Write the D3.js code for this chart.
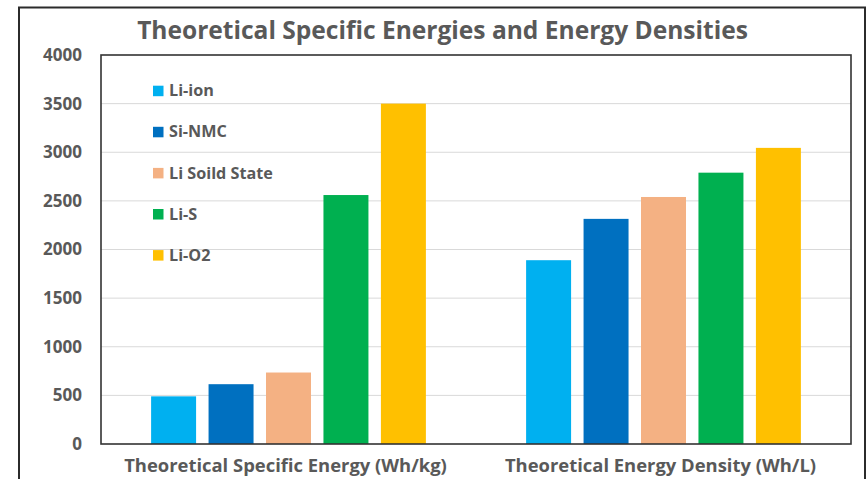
<!DOCTYPE html>
<html>
<head>
<meta charset="utf-8">
<script src="https://cdn.jsdelivr.net/npm/d3@7"></script>
<style>
  html, body { margin: 0; padding: 0; background: #fff; }
  svg { display: block; }
  text { font-family: "Open Sans", "Noto Sans", sans-serif; font-weight: 700; fill: #595959; }
</style>
</head>
<body>
<svg id="chart" width="867" height="479"></svg>
<script>
// Chart data
const categories = ["Theoretical Specific Energy (Wh/kg)", "Theoretical Energy Density (Wh/L)"];
const seriesNames = ["Li-ion", "Si-NMC", "Li Soild State", "Li-S", "Li-O2"];
const liIon = [490, 1890];
const siNmc = [615, 2315];
const liSolidState = [735, 2540];
const liS = [2560, 2790];
const liO2 = [3500, 3045];
const yTickValues = [0, 500, 1000, 1500, 2000, 2500, 3000, 3500, 4000];
const titleText = "Theoretical Specific Energies and Energy Densities";

const seriesValues = [liIon, siNmc, liSolidState, liS, liO2];
const colors = ["#00B0F0", "#0070C0", "#F4B183", "#00B050", "#FFC000"];

const svg = d3.select("#chart");
const W = 867, H = 479;
const plot = { left: 101, right: 851, top: 55, bottom: 444 };

// Picks a font size so that the given string spans the wanted width
function fitSize(str, width) {
  const t = svg.append("text").attr("font-size", 20).text(str);
  const w = t.node().getComputedTextLength();
  t.remove();
  return 20 * width / w;
}

// Outer frame
svg.append("rect")
  .attr("x", 19).attr("y", 7.5)
  .attr("width", 846).attr("height", H)
  .attr("fill", "#fff").attr("stroke", "#2b2b2b").attr("stroke-width", 2);

// Scales
const y = d3.scaleLinear().domain([0, 4000]).range([plot.bottom, plot.top]);
const x0 = d3.scaleBand().domain(categories).range([plot.left, plot.right])
  .paddingInner(0.234).paddingOuter(0.117);
const x1 = d3.scaleBand().domain(seriesNames).range([0, x0.bandwidth()])
  .paddingInner(0.217).paddingOuter(0.1085);

// Gridlines
svg.append("g").selectAll("line").data(yTickValues.filter(d => d > 0 && d < 4000)).join("line")
  .attr("x1", plot.left).attr("x2", plot.right)
  .attr("y1", d => y(d)).attr("y2", d => y(d))
  .attr("stroke", "#d9d9d9").attr("stroke-width", 1);

// Bars
const groups = svg.append("g").selectAll("g").data(categories).join("g")
  .attr("transform", d => `translate(${x0(d)},0)`);
groups.selectAll("rect")
  .data((c, ci) => seriesNames.map((s, si) => ({ s, si, v: seriesValues[si][ci] })))
  .join("rect")
  .attr("x", d => x1(d.s))
  .attr("width", x1.bandwidth())
  .attr("y", d => y(d.v))
  .attr("height", d => y(0) - y(d.v))
  .attr("fill", d => colors[d.si]);

// Plot area border
svg.append("rect")
  .attr("x", plot.left).attr("y", plot.top)
  .attr("width", plot.right - plot.left).attr("height", plot.bottom - plot.top)
  .attr("fill", "none").attr("stroke", "#333").attr("stroke-width", 1.6);

// Y axis labels
const tickSize = fitSize("4000", 39);
const yAxis = d3.axisLeft(y).tickValues(yTickValues).tickSize(0).tickPadding(0).tickFormat(d3.format("d"));
const yg = svg.append("g").attr("transform", "translate(82,0)").call(yAxis);
yg.select(".domain").remove();
yg.selectAll("text")
  .attr("font-size", tickSize)
  .attr("font-family", null)
  .attr("fill", "#595959");

// Category labels
const catSize = fitSize(categories[0], 323);
svg.append("g").selectAll("text").data(categories).join("text")
  .attr("x", d => x0(d) + x0.bandwidth() / 2 - 3)
  .attr("y", 472)
  .attr("text-anchor", "middle")
  .attr("font-size", catSize)
  .text(d => d);

// Title
svg.append("text")
  .attr("x", 442.5).attr("y", 39)
  .attr("text-anchor", "middle")
  .attr("font-size", fitSize(titleText, 611))
  .text(titleText);

// Legend
const legSize = fitSize("Li Soild State", 104);
const legend = svg.append("g").selectAll("g").data(seriesNames).join("g")
  .attr("transform", (d, i) => `translate(153,${90.7 + i * 41.1})`);
legend.append("rect")
  .attr("x", 0).attr("y", -5).attr("width", 10.5).attr("height", 10.5)
  .attr("fill", (d, i) => colors[i]);
legend.append("text")
  .attr("x", 16).attr("y", 0).attr("dy", "0.35em")
  .attr("font-size", legSize)
  .text(d => d);
</script>
</body>
</html>
